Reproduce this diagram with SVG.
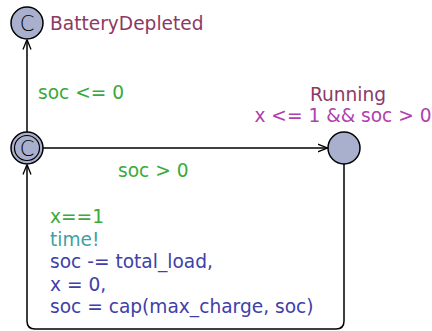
<svg xmlns="http://www.w3.org/2000/svg" width="432" height="331" viewBox="0 0 432 331">
<defs>
<style>
text{font-family:"DejaVu Sans",sans-serif;font-size:18.6px}
.loc{fill:#a8b0cd;stroke:#000;stroke-width:1.5}
.edge{fill:none;stroke:#000;stroke-width:1.5}
.mark{font-size:21px;font-weight:200}
.name{fill:#8c3a64}
.inv{fill:#b040b0}
.guard{fill:#3aaa3a}
.sync{fill:#40a0a8}
.upd{fill:#4040a8}
</style>
<marker id="arr" viewBox="0 0 10 10" refX="10" refY="5" markerWidth="10" markerHeight="10" markerUnits="userSpaceOnUse" orient="auto">
<path d="M0,1 L10,5 L0,9" fill="none" stroke="#000" stroke-width="1.3"/>
</marker>
</defs>
<g id="connectors">
<path class="edge" d="M27,132 L27,39.5" marker-end="url(#arr)"/>
<path class="edge" d="M43,148 L327.5,148" marker-end="url(#arr)"/>
<path class="edge" d="M344,164 L344,321 Q344,329 336,329 L35,329 Q27,329 27,321 L27,164.5" marker-end="url(#arr)"/>
<text class="guard" x="38" y="99">soc &lt;= 0</text>
<text class="guard" x="118" y="177">soc &gt; 0</text>
<text class="guard" x="50" y="223">x==1</text>
<text class="sync" x="50" y="245.5">time!</text>
<text class="upd" x="50" y="268">soc -= total_load,</text>
<text class="upd" x="50" y="290.5">x = 0,</text>
<text class="upd" x="50" y="313">soc = cap(max_charge, soc)</text>
</g>
<g id="BatteryDepleted">
<circle class="loc" cx="27" cy="23" r="16"/>
<text class="mark" x="27" y="30.5" text-anchor="middle">C</text>
<text class="name" x="50" y="30">BatteryDepleted</text>
</g>
<g id="Committed">
<circle class="loc" cx="27" cy="148" r="16"/>
<circle cx="27" cy="148" r="12.5" fill="none" stroke="#000" stroke-width="1.2"/>
<text class="mark" x="27" y="155.5" text-anchor="middle">C</text>
</g>
<g id="Running">
<circle class="loc" cx="344" cy="148" r="16"/>
<text class="name" x="348" y="101" text-anchor="middle">Running</text>
<text class="inv" x="343" y="121.5" text-anchor="middle">x &lt;= 1 &amp;&amp; soc &gt; 0</text>
</g>
</svg>
